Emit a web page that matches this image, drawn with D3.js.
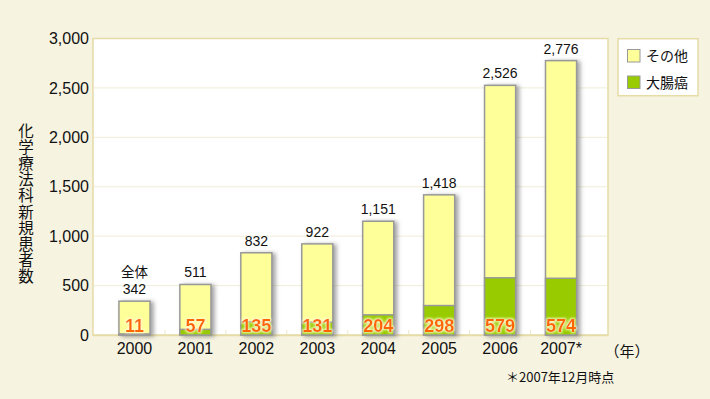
<!DOCTYPE html>
<html><head><meta charset="utf-8">
<script src="https://cdn.jsdelivr.net/npm/d3@7"></script>
<style>
body{margin:0;background:#f6f3e1;}
svg{display:block;font-family:"Liberation Sans",Arial,sans-serif;}
</style></head>
<body><svg id="c" width="710" height="399"></svg>
<script>
const years = ["2000","2001","2002","2003","2004","2005","2006","2007*"];
const totals = [342,511,832,922,1151,1418,2526,2776];
const colorectal = [11,57,135,131,204,298,579,574];
const yTicks = [0,500,1000,1500,2000,2500,3000];
const seriesNames = ["その他","大腸癌"];
const yTitle = "化学療法科新規患者数";

const svg = d3.select("#c");
const W=710,H=399;
svg.append("rect").attr("width",W).attr("height",H).attr("fill","#f6f3e1");
const defs = svg.append("defs");
const sh = defs.append("filter").attr("id","sh").attr("x","-30%").attr("y","-30%").attr("width","170%").attr("height","160%");
sh.append("feDropShadow").attr("dx",3).attr("dy",1).attr("stdDeviation",2).attr("flood-color","#666").attr("flood-opacity",0.6);
const gl = defs.append("filter").attr("id","gl").attr("x","-20%").attr("y","-30%").attr("width","140%").attr("height","160%");
gl.append("feMorphology").attr("in","SourceAlpha").attr("operator","dilate").attr("radius",1).attr("result","d");
gl.append("feGaussianBlur").attr("in","d").attr("stdDeviation",1).attr("result","b");
gl.append("feFlood").attr("flood-color","#fffbd0").attr("flood-opacity",0.9).attr("result","f");
gl.append("feComposite").attr("in","f").attr("in2","b").attr("operator","in").attr("result","g");
const m = gl.append("feMerge"); m.append("feMergeNode").attr("in","g"); m.append("feMergeNode").attr("in","SourceGraphic");

const L=93,R=608,T=38.5,B=335;
const y = d3.scaleLinear().domain([0,3000]).range([B,T]);
const x = d3.scaleBand().domain(years).range([104,591.5]).paddingInner(0.49).paddingOuter(0.245);

svg.append("rect").attr("x",L).attr("y",T).attr("width",R-L).attr("height",B-T).attr("fill","#fff").attr("stroke","#e5dca6").attr("stroke-width",1.5);
// grid
svg.append("g").selectAll("line").data(yTicks.filter(d=>d>0&&d<3000)).join("line")
  .attr("x1",L+1).attr("x2",R-1).attr("y1",d=>y(d)).attr("y2",d=>y(d)).attr("stroke","#f0edd6").attr("stroke-width",1);
// baseline
svg.append("line").attr("x1",L).attr("x2",R).attr("y1",B+0.5).attr("y2",B+0.5).attr("stroke","#e5dca6").attr("stroke-width",1.5);
// small ticks between bars
const step = x.step();
svg.append("g").selectAll("line").data(years.slice(0,-1)).join("line")
  .attr("x1",d=>x(d)+x.bandwidth()/2+step/2).attr("x2",d=>x(d)+x.bandwidth()/2+step/2)
  .attr("y1",B).attr("y2",B-5).attr("stroke","#ece7c8");

// y axis
const ya = svg.append("g").attr("transform",`translate(${L},0)`)
  .call(d3.axisLeft(y).tickValues(yTicks).tickFormat(d3.format(",")).tickSize(0).tickPadding(4));
ya.select(".domain").remove();
ya.selectAll("text").attr("font-size",16).attr("fill","#111").attr("font-family","Liberation Sans, Arial, sans-serif");

// x axis
const xa = svg.append("g").attr("transform",`translate(0,${B})`)
  .call(d3.axisBottom(x).tickSize(0).tickPadding(8));
xa.select(".domain").remove();
xa.selectAll("text").attr("font-size",16).attr("fill","#111").attr("font-family","Liberation Sans, Arial, sans-serif");

svg.append("text").attr("x",627).attr("y",357).attr("text-anchor","middle").attr("font-size",15).attr("fill","#111")
  .attr("font-family","Noto Sans CJK JP").text("（年）");

// bars
const bars = svg.append("g");
years.forEach((yr,i)=>{
  const g = bars.append("g");
  g.append("rect").attr("x",x(yr)).attr("y",y(totals[i])).attr("width",x.bandwidth()).attr("height",B-y(totals[i]))
    .attr("fill","#ffff99").attr("stroke","#999").attr("stroke-width",1.5).attr("filter","url(#sh)");
  g.append("rect").attr("x",x(yr)).attr("y",y(colorectal[i])).attr("width",x.bandwidth()).attr("height",B-y(colorectal[i]))
    .attr("fill","#99cc00").attr("stroke","#999").attr("stroke-width",1.5);
});
// total labels
svg.append("g").selectAll("text").data(years).join("text")
  .attr("x",d=>x(d)+x.bandwidth()/2).attr("y",(d,i)=>y(totals[i])-7)
  .attr("text-anchor","middle").attr("font-size",14).attr("fill","#111").text((d,i)=>d3.format(",")(totals[i]));
svg.append("text").attr("x",x(years[0])+x.bandwidth()/2).attr("y",y(totals[0])-24)
  .attr("text-anchor","middle").attr("font-size",13.5).attr("fill","#111").attr("font-family","Noto Sans CJK JP").text("全体");
// colorectal labels
svg.append("g").selectAll("text").data(years).join("text")
  .attr("x",d=>x(d)+x.bandwidth()/2).attr("y",B-3)
  .attr("text-anchor","middle").attr("font-size",18).attr("font-weight","bold").attr("fill","#ff6600")
  .attr("filter","url(#gl)").text((d,i)=>colorectal[i]);

// y title (vertical writing)
svg.append("text").attr("x",26).attr("y",123).attr("font-size",15.5).attr("fill","#111")
  .attr("font-family","Noto Sans CJK JP")
  .style("writing-mode","vertical-rl").style("text-orientation","upright").style("letter-spacing","0.7px")
  .text(yTitle);

// legend
const lg = svg.append("g");
lg.append("rect").attr("x",618).attr("y",38.7).attr("width",80).attr("height",57).attr("fill","#fff").attr("stroke","#e5dca6").attr("stroke-width",1.5);
const lc = ["#ffff99","#99cc00"];
seriesNames.forEach((n,i)=>{
  lg.append("rect").attr("x",627.5).attr("y",49.5+i*26.5).attr("width",12.5).attr("height",12.5).attr("fill",lc[i]).attr("stroke","#999").attr("stroke-width",1);
  lg.append("text").attr("x",646).attr("y",61+i*26.5).attr("font-size",14).attr("fill","#111").attr("font-family","Noto Sans CJK JP").text(n);
});

// footnote
svg.append("text").attr("x",506).attr("y",382).attr("font-size",13).attr("fill","#111").attr("font-family","Noto Sans CJK JP").text("＊2007年12月時点");
</script></body></html>
